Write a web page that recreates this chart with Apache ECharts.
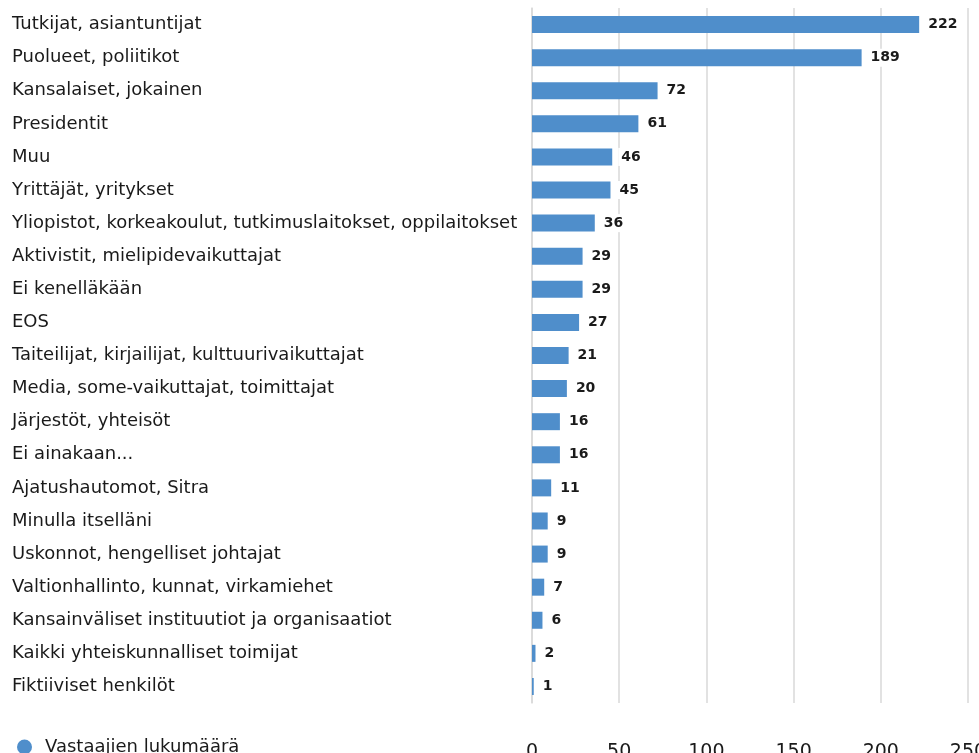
<!DOCTYPE html>
<html>
<head>
<meta charset="utf-8">
<script src="https://cdn.jsdelivr.net/npm/echarts@6/dist/echarts.min.js"></script>
<style>
  html, body { margin: 0; padding: 0; background: #fff; }
  #chart { width: 979px; height: 753px; }
</style>
</head>
<body>
<div id="chart"></div>
<script>
  // kategoriat ylhäältä alas
  const categories = [
    "Tutkijat, asiantuntijat",
    "Puolueet, poliitikot",
    "Kansalaiset, jokainen",
    "Presidentit",
    "Muu",
    "Yrittäjät, yritykset",
    "Yliopistot, korkeakoulut, tutkimuslaitokset, oppilaitokset",
    "Aktivistit, mielipidevaikuttajat",
    "Ei kenelläkään",
    "EOS",
    "Taiteilijat, kirjailijat, kulttuurivaikuttajat",
    "Media, some-vaikuttajat, toimittajat",
    "Järjestöt, yhteisöt",
    "Ei ainakaan...",
    "Ajatushautomot, Sitra",
    "Minulla itselläni",
    "Uskonnot, hengelliset johtajat",
    "Valtionhallinto, kunnat, virkamiehet",
    "Kansainväliset instituutiot ja organisaatiot",
    "Kaikki yhteiskunnalliset toimijat",
    "Fiktiiviset henkilöt"
  ];
  const counts = [222, 189, 72, 61, 46, 45, 36, 29, 29, 27, 21, 20, 16, 16, 11, 9, 9, 7, 6, 2, 1];
  const seriesName = "Vastaajien lukumäärä";
  const xTicks = [0, 50, 100, 150, 200, 250];

  const font = "'DejaVu Sans', sans-serif";
  const textColor = "#1a1a1a";

  let myChart = echarts.init(document.getElementById("chart"));

  myChart.setOption({
    animation: false,
    legend: {
      left: 12,
      top: 733,
      icon: "circle",
      itemWidth: 15,
      itemHeight: 15,
      textStyle: {
        fontFamily: font,
        fontSize: 18,
        color: textColor,
        padding: [0, 0, 0, 8]
      },
      data: [seriesName]
    },
    grid: {
      left: 532,
      right: 11,
      top: 8,
      bottom: 50,
      outerBoundsMode: "none",
      containLabel: false
    },
    xAxis: {
      type: "value",
      min: xTicks[0],
      max: xTicks[xTicks.length - 1],
      interval: 50,
      axisLine: { show: false },
      axisTick: { show: false },
      splitLine: { lineStyle: { color: "#d9d9d9", width: 1.5 } },
      axisLabel: {
        margin: 40,
        fontFamily: font,
        fontSize: 19,
        color: textColor
      }
    },
    yAxis: {
      type: "category",
      inverse: true,
      data: categories,
      axisLine: { show: true, lineStyle: { color: "#d9d9d9", width: 1.5 } },
      axisTick: { show: false },
      axisLabel: {
        align: "left",
        margin: 520,
        fontFamily: font,
        fontSize: 18,
        color: textColor,
        padding: [5, 0, 0, 0]
      }
    },
    series: [
      {
        type: "bar",
        name: seriesName,
        data: counts,
        barWidth: 17,
        itemStyle: { color: "#4f8ecb" },
        label: {
          show: true,
          position: "right",
          distance: 6,
          backgroundColor: "#fff",
          padding: [2, 3],
          fontFamily: font,
          fontSize: 14,
          fontWeight: "bold",
          color: textColor
        }
      }
    ]
  });
</script>
</body>
</html>
